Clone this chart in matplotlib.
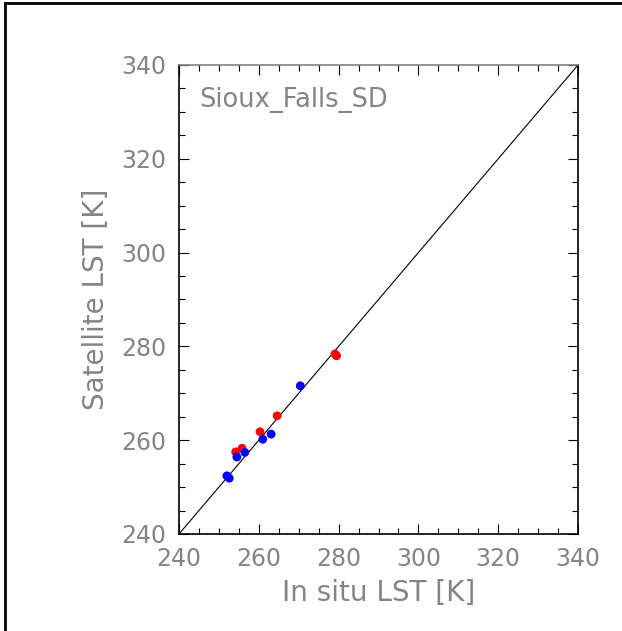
import numpy as np
import matplotlib.pyplot as plt
from matplotlib.lines import Line2D
from matplotlib.ticker import MultipleLocator

# in situ vs satellite LST, two satellite series
red_insitu = [279.1, 279.5, 264.6, 260.3, 255.8, 254.2]
red_sat = [278.4, 278.0, 265.2, 261.8, 258.3, 257.5]
blue_insitu = [270.4, 263.1, 261.0, 256.5, 254.5, 252.0, 252.6]
blue_sat = [271.6, 261.3, 260.2, 257.4, 256.4, 252.4, 251.9]

site = 'Sioux_Falls_SD'
lims = [240, 340]
txt = '#858585'

plt.rcParams['font.family'] = 'DejaVu Sans'
fig = plt.figure(figsize=(6.22, 6.31), dpi=100)
ax = fig.add_axes([179/622, 97/631, 399/622, 469/631])

ax.plot(lims, lims, color='black', lw=0.8)
ax.scatter(red_insitu, red_sat, s=40, color='red', edgecolors='none', zorder=3)
ax.scatter(blue_insitu, blue_sat, s=40, color='blue', edgecolors='none', zorder=4)

ax.set_xlim(lims)
ax.set_ylim(lims)
ax.xaxis.set_major_locator(MultipleLocator(20))
ax.yaxis.set_major_locator(MultipleLocator(20))
ax.xaxis.set_minor_locator(MultipleLocator(5))
ax.yaxis.set_minor_locator(MultipleLocator(5))
ax.tick_params(which='both', direction='in', top=True, right=True,
               color='black', width=0.8, labelsize=17, labelcolor=txt, pad=9)
ax.tick_params(which='major', length=7)
ax.tick_params(which='minor', length=4)
for s in ax.spines.values():
    s.set_linewidth(1.2)
ax.spines['top'].set_color('#808080')

ax.set_xlabel('In situ LST [K]', fontsize=20, color=txt, labelpad=6)
ax.set_ylabel('Satellite LST [K]', fontsize=20, color=txt, labelpad=8)
ax.text(0.05, 0.925, site, transform=ax.transAxes, fontsize=18.5, color=txt,
        va='center', ha='left')

# page frame, top and left edges only
fig.add_artist(Line2D([5/622, 1], [1 - 3/631, 1 - 3/631], color='black', lw=2,
                      transform=fig.transFigure))
fig.add_artist(Line2D([5/622, 5/622], [0, 1 - 3/631], color='black', lw=2,
                      transform=fig.transFigure))

fig.savefig('out.png', dpi=100)
